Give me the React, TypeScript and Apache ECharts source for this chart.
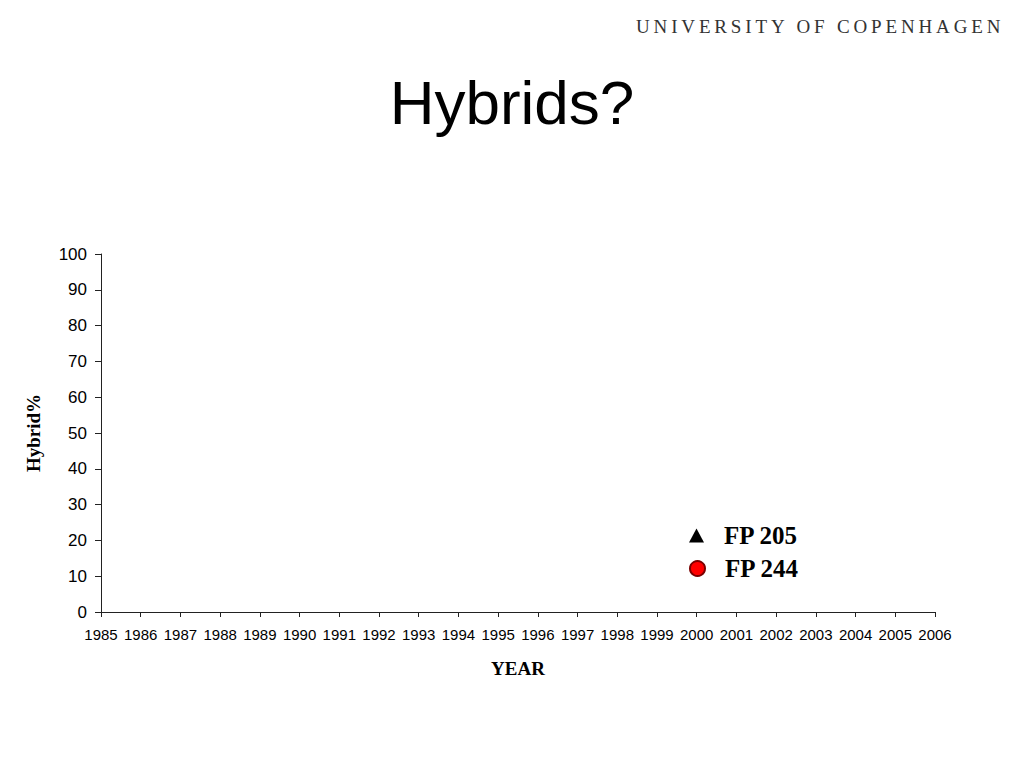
import React, { useEffect, useRef } from "react";
import * as echarts from "echarts";

const titleText = "Hybrids?";
const headerText = "UNIVERSITY OF COPENHAGEN";
const seriesNames = ["FP 205", "FP 244"];
const fp205: [number, number][] = [];
const fp244: [number, number][] = [];
const yearMin = 1985;
const yearMax = 2006;
const yMin = 0;
const yMax = 100;
const yStep = 10;

export default function App() {
  const ref = useRef<HTMLDivElement>(null);
  useEffect(() => {
    if (!ref.current) return;
    const chart = echarts.init(ref.current, null, { renderer: "svg" });
    const legendText = {
      fontFamily: "Liberation Serif",
      fontWeight: "bold" as const,
      fontSize: 25,
      color: "#000",
      padding: [0, 0, 0, 15],
    };
    chart.setOption({
      animation: false,
      backgroundColor: "#fff",
      title: {
        text: titleText,
        left: "center",
        top: 66,
        textStyle: {
          fontFamily: "Liberation Sans",
          fontWeight: "normal",
          fontSize: 62,
          color: "#000",
        },
      },
      grid: { left: 101, right: 89, top: 254, bottom: 156 },
      legend: [
        {
          data: [seriesNames[0]],
          left: 689,
          top: 523,
          padding: 0,
          orient: "vertical",
          icon: "triangle",
          itemWidth: 15,
          itemHeight: 14,
          itemGap: 0,
          textStyle: legendText,
          selectedMode: false,
        },
        {
          data: [seriesNames[1]],
          left: 689,
          top: 556,
          padding: 0,
          orient: "vertical",
          icon: "circle",
          itemWidth: 15,
          itemHeight: 15,
          itemGap: 0,
          textStyle: legendText,
          selectedMode: false,
        },
      ],
      xAxis: {
        type: "value",
        min: yearMin,
        max: yearMax,
        interval: 1,
        name: "YEAR",
        nameLocation: "middle",
        nameGap: 47,
        nameTextStyle: {
          fontFamily: "Liberation Serif",
          fontWeight: "bold",
          fontSize: 19,
          color: "#000",
        },
        axisLine: { lineStyle: { color: "#222", width: 1 } },
        axisTick: { show: true, inside: false, length: 5, lineStyle: { color: "#222" } },
        axisLabel: {
          margin: 15,
          fontFamily: "Liberation Sans",
          fontSize: 15,
          color: "#000",
          formatter: (v: number) => String(v),
        },
        splitLine: { show: false },
      },
      yAxis: {
        type: "value",
        min: yMin,
        max: yMax,
        interval: yStep,
        name: "Hybrid%",
        nameLocation: "middle",
        nameGap: 58,
        nameTextStyle: {
          fontFamily: "Liberation Serif",
          fontWeight: "bold",
          fontSize: 19,
          color: "#000",
        },
        axisLine: { show: true, lineStyle: { color: "#222", width: 1 } },
        axisTick: { show: true, inside: false, length: 6, lineStyle: { color: "#222" } },
        axisLabel: {
          margin: 14,
          fontFamily: "Liberation Sans",
          fontSize: 17,
          color: "#000",
        },
        splitLine: { show: false },
      },
      series: [
        {
          name: seriesNames[0],
          type: "scatter",
          symbol: "triangle",
          data: fp205,
          itemStyle: { color: "#000", opacity: 1 },
        },
        {
          name: seriesNames[1],
          type: "scatter",
          symbol: "circle",
          data: fp244,
          itemStyle: { color: "#ff0000", borderColor: "#7a0000", borderWidth: 1, opacity: 1 },
        },
      ],
    });
    return () => chart.dispose();
  }, []);
  return (
    <div style={{ position: "fixed", left: 0, top: 0, width: 1024, height: 768, background: "#fff" }}>
      <div ref={ref} style={{ position: "absolute", left: 0, top: 0, width: 1024, height: 768 }} />
      <div
        style={{
          position: "absolute",
          left: 636,
          top: 15,
          fontFamily: "Liberation Serif",
          fontSize: 19,
          letterSpacing: "3.85px",
          color: "#333",
          whiteSpace: "nowrap",
          lineHeight: "24px",
        }}
      >
        {headerText}
      </div>
    </div>
  );
}
